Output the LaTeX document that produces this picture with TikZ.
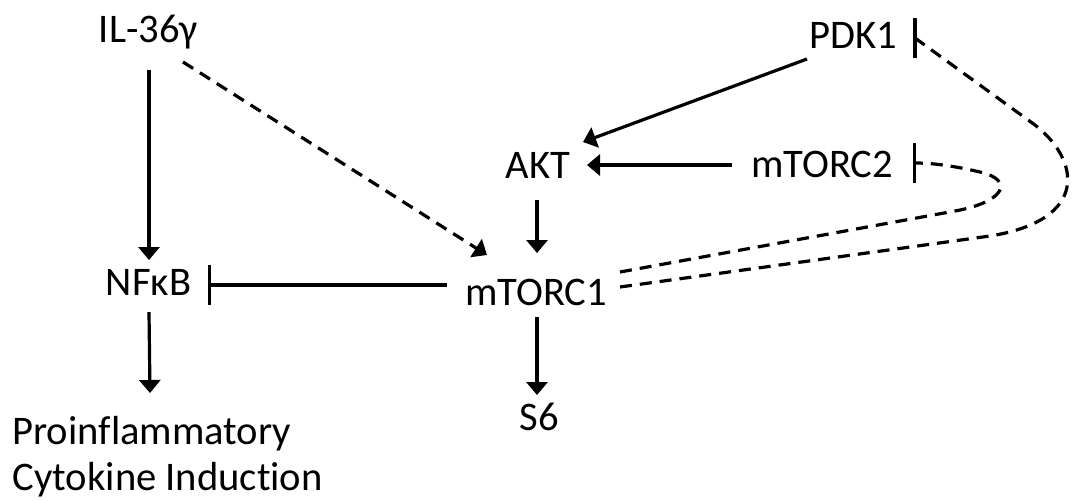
\documentclass[tikz,border=0pt]{standalone}
\usepackage{fontspec}
\setmainfont{Carlito}[Ligatures=NoCommon]
\usetikzlibrary{arrows.meta,calc}

\begin{document}
\begin{tikzpicture}[x=0.5pt,y=-0.5pt,
  lbl/.style={font=\fontsize{20.3pt}{23pt}\selectfont, inner sep=0pt, anchor=base},
  act/.style={line width=1.6pt,-{Triangle[width=10.5pt,length=6.5pt]}},
  inh/.style={line width=1.6pt,-{Bar[width=20pt]}},
  wire/.style={line width=1.6pt},
  dsh/.style={dash pattern=on 6pt off 4pt},
]
\useasboundingbox (0,0) rectangle (1078,500);

% labels
\node[lbl] (il)   at (148.5,42)  {IL-36γ};
\node[lbl] (pdk)  at (853.5,48)  {PDK1};
\node[lbl] (akt)  at (538,178)   {AKT};
\node[lbl] (m2)   at (822,177)   {mTORC2};
\node[lbl] (nfkb) at (148.5,295) {NFκB};
\node[lbl] (m1)   at (536,305)   {mTORC1};
\node[lbl] (s6)   at (539,430)   {S6};
\node[lbl,anchor=north west,align=left] (out) at (12,416)
  {Proinflammatory\\Cytokine Induction};

% activating arrows
\draw[act] ($(il.base)+(0.5,28)$) -- ($(nfkb.base)+(0.5,-35)$);
\draw[act,dsh] ($(il.base)+(34.5,20)$) -- ($(m1.base)+(-49,-50)$);
\draw[act] ($(nfkb.base)+(0.5,17)$) -- ($(nfkb.base |- out.north)+(1.5,-23)$);
\draw[act] ($(pdk.base)+(-46.5,11)$) -- ($(akt.base)+(45,-36)$);
\draw[act] ($(m2.base)+(-90,-12)$) -- ($(akt.base)+(49,-13)$);
\draw[act] ($(akt.base)+(-1,22)$) -- ($(m1.base)+(1,-52)$);
\draw[act] ($(m1.base)+(1,12)$) -- ($(s6.base)+(-2,-35)$);

% inhibition of NFkB by mTORC1
\draw[inh] ($(m1.base)+(-89,-20)$) -- ($(nfkb.base)+(59.5,-10)$);

% feedback from mTORC1 to mTORC2
\draw[inh,dsh] ($(m1.base)+(84,-33)$) -- (955,211)
  .. controls (1005,202) and (1015,180) .. (980,172)
  .. controls (950,165) and (930,163) .. ($(m2.base)+(91,-14)$);

% feedback from mTORC1 to PDK1
\coordinate (pdkbar) at ($(pdk.base)+(61.5,-10)$);
\draw[wire,dsh] ($(m1.base)+(84,-18)$) -- (990,236)
  .. controls (1090,220) and (1080,160) .. (1035,125) -- (pdkbar);
\draw[wire] ($(pdkbar)+(0,-20)$) -- ($(pdkbar)+(0,20)$);
\end{tikzpicture}
\end{document}
